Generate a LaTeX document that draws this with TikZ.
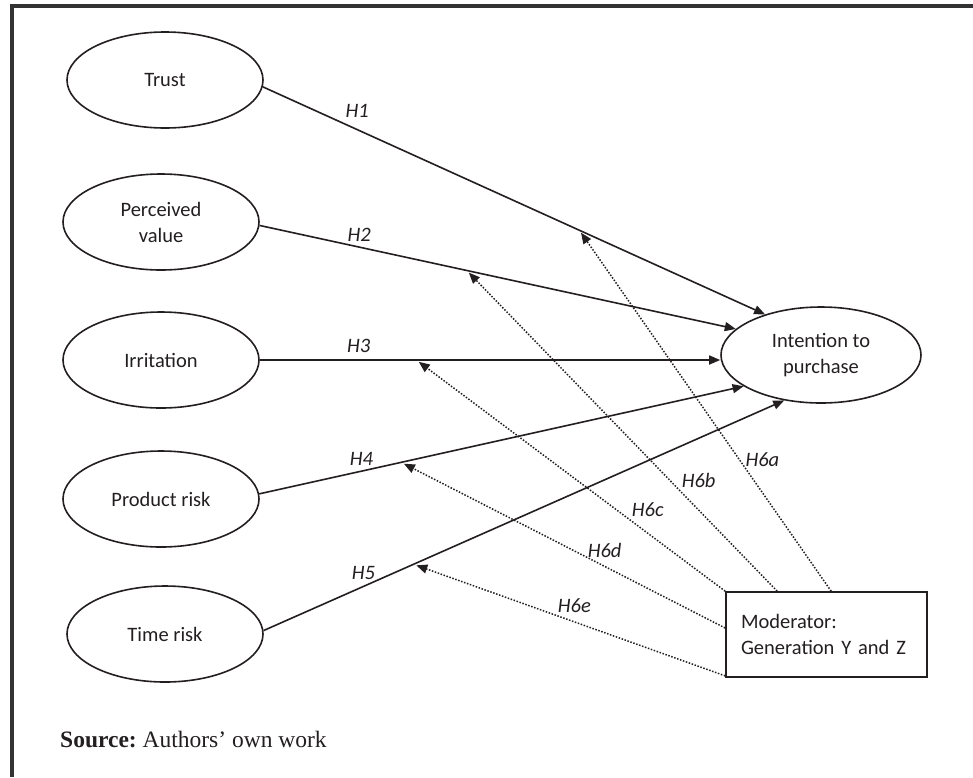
\documentclass[tikz,border=0pt]{standalone}
\usepackage{fontspec}
\setmainfont{Carlito}
\newfontfamily\sourcefont{Liberation Serif}
\usetikzlibrary{shapes.geometric, arrows.meta, positioning}
\definecolor{ModelInk}{RGB}{35, 31, 32}
\definecolor{FrameGray}{RGB}{51, 51, 51}

\tikzset{
    construct/.style={ellipse, draw=ModelInk, line width=1.6pt, minimum width=196pt, minimum height=96pt,
        inner sep=0pt, align=center, text=ModelInk, font=\fontsize{20.5}{26}\selectfont},
    moderbox/.style={rectangle, draw=ModelInk, line width=1.7pt, minimum width=201pt, minimum height=85pt,
        text width=171pt, inner xsep=15pt, align=left, text=ModelInk, font=\fontsize{20.5}{26}\selectfont},
    effect/.style={draw=ModelInk, line width=1.6pt, -{Triangle[length=11pt, width=9pt]}},
    moderation/.style={draw=ModelInk, line width=1.5pt, dash pattern=on 1.5pt off 1.6pt, shorten >=3pt,
        -{Triangle[length=11pt, width=9pt]}},
    hyp/.style={font=\fontsize{20.5}{24}\selectfont\itshape, text=ModelInk}
}

\begin{document}
\begin{tikzpicture}[x=1pt, y=-1pt]

    \useasboundingbox (0, 0) rectangle (973, 777);

    % --- Frame (top and left edge only) ---
    \draw[FrameGray, line width=3.5pt] (11.75, 777) -- (11.75, 5.75) -- (973, 5.75);

    % --- Constructs ---
    \node[construct] (trust)    at (165, 80)  {Trust};
    \node[construct] (value)    at (161, 222) {Perceived\\value};
    \node[construct] (irrit)    at (161, 360) {Irritation};
    \node[construct] (prodrisk) at (161, 499) {Product risk};
    \node[construct] (timerisk) at (165, 634) {Time risk};

    \node[construct, minimum width=200pt] (intent) at (821, 355) {Intention to\\purchase};

    % Moderator box
    \node[moderbox] (moder) at (826.5, 634.5) {Moderator:\\Generation Y and Z};

    % --- Direct effects H1 - H5 ---
    \draw[effect] (trust.-4) -- node[hyp, pos=0.188, above=8pt] {H1}
        coordinate[pos=0.63] (onH1) (intent.144);
    \draw[effect] (value.-2) -- node[hyp, pos=0.209, above=1pt] {H2}
        coordinate[pos=0.435] (onH2) (intent.163);
    \draw[effect] (irrit.east) -- node[hyp, pos=0.215, above=3pt] {H3}
        coordinate[pos=0.34] (onH3) (irrit.east -| intent.west);
    \draw[effect] (prodrisk.3.5) -- node[hyp, pos=0.211, above=1.5pt] {H4}
        coordinate[pos=0.293] (onH4) (intent.202.5);
    \draw[effect] (timerisk.2.5) -- node[hyp, pos=0.192, above=3pt] {H5}
        coordinate[pos=0.288] (onH5) (intent.231);

    % --- Moderating effects H6a - H6e ---
    \coordinate (m6a) at ([xshift=106pt]moder.north west);
    \coordinate (m6b) at ([xshift=52pt]moder.north west);
    \coordinate (m6c) at (moder.north west);
    \coordinate (m6d) at ([yshift=6.5pt]moder.west);
    \coordinate (m6e) at ([yshift=2pt]moder.south west);

    \draw[moderation] (m6a) -- node[hyp, pos=0.364, right=2pt] {H6a} (onH1);
    \draw[moderation] (m6b) -- node[hyp, pos=0.346, right=8pt] {H6b} (onH2);
    \draw[moderation] (m6c) -- node[hyp, pos=0.354, right=12pt] {H6c} (onH3);
    \draw[moderation] (m6d) -- node[hyp, pos=0.372, above=5pt] {H6d} (onH4);
    \draw[moderation] (m6e) -- node[hyp, pos=0.484, above=5pt] {H6e} (onH5);

    % --- Source note ---
    \node[anchor=base west, inner sep=0pt, text=ModelInk, font=\sourcefont\fontsize{23.5}{27}\selectfont] (source)
        at (60, 747) {\textbf{Source:}~Authors’ own work};

\end{tikzpicture}
\end{document}
